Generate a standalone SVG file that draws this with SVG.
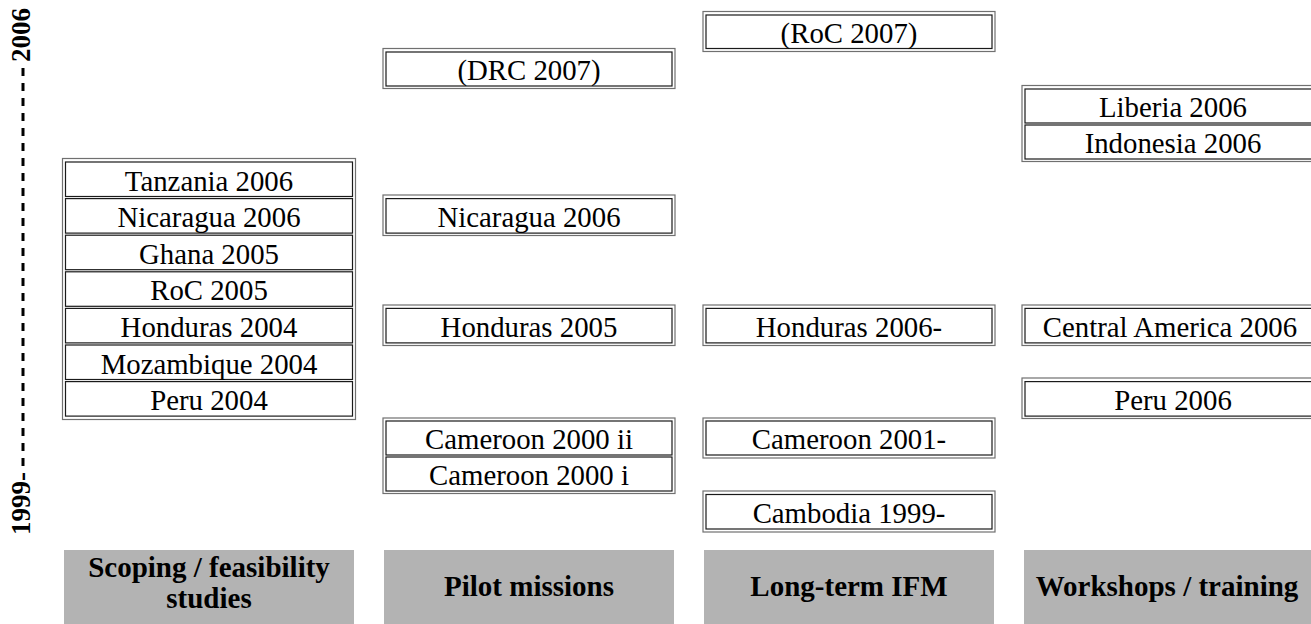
<svg xmlns="http://www.w3.org/2000/svg" width="1311" height="624" viewBox="0 0 1311 624">
<style>
.o{fill:none;stroke:#707070;stroke-width:1.2}
.i{fill:#fff;stroke:#1a1a1a;stroke-width:1.2}
.t{font-family:"Liberation Serif","Times New Roman",serif;font-size:28.8px;fill:#000;text-anchor:middle}
.h{fill:#b3b3b3}
.ht{font-family:"Liberation Serif","Times New Roman",serif;font-size:29px;font-weight:bold;fill:#000;text-anchor:middle}
.ax{font-family:"Liberation Serif","Times New Roman",serif;font-size:27px;font-weight:bold;fill:#000}
</style>
<rect width="1311" height="624" fill="#fff"/>
<g id="axis">
<text class="ax" transform="translate(30,62) rotate(-90)">2006</text>
<line x1="23" y1="68" x2="23" y2="466" stroke="#000" stroke-width="3" stroke-dasharray="8 7"/>
<text class="ax" transform="translate(30,535) rotate(-90)">1999-</text>
</g>
<g id="scoping">
<rect class="o" x="62.5" y="158.5" width="293" height="261"/>
<rect class="i" x="65.5" y="162" width="287" height="34.5"/><text class="t" x="209" y="190.5">Tanzania 2006</text>
<rect class="i" x="65.5" y="198.6" width="287" height="34.5"/><text class="t" x="209" y="227.1">Nicaragua 2006</text>
<rect class="i" x="65.5" y="235.2" width="287" height="34.5"/><text class="t" x="209" y="263.7">Ghana 2005</text>
<rect class="i" x="65.5" y="271.8" width="287" height="34.5"/><text class="t" x="209" y="300.3">RoC 2005</text>
<rect class="i" x="65.5" y="308.4" width="287" height="34.5"/><text class="t" x="209" y="336.9">Honduras 2004</text>
<rect class="i" x="65.5" y="345" width="287" height="34.5"/><text class="t" x="209" y="373.5">Mozambique 2004</text>
<rect class="i" x="65.5" y="381.6" width="287" height="34.5"/><text class="t" x="209" y="410.1">Peru 2004</text>
</g>
<g id="pilot">
<rect class="o" x="383" y="48.5" width="292" height="40"/>
<rect class="i" x="386" y="52" width="286" height="34"/><text class="t" x="529" y="80">(DRC 2007)</text>
<rect class="o" x="383" y="195" width="292" height="40.5"/>
<rect class="i" x="386" y="198.6" width="286" height="34.5"/><text class="t" x="529" y="227.1">Nicaragua 2006</text>
<rect class="o" x="383" y="305" width="292" height="40.5"/>
<rect class="i" x="386" y="308.4" width="286" height="34.5"/><text class="t" x="529" y="336.9">Honduras 2005</text>
<rect class="o" x="383" y="418" width="292" height="75.5"/>
<rect class="i" x="386" y="421" width="286" height="34"/><text class="t" x="529" y="449">Cameroon 2000 ii</text>
<rect class="i" x="386" y="457" width="286" height="34"/><text class="t" x="529" y="485">Cameroon 2000 i</text>
</g>
<g id="longterm">
<rect class="o" x="703" y="11.5" width="292" height="40"/>
<rect class="i" x="706" y="15" width="286" height="33.5"/><text class="t" x="849" y="43">(RoC 2007)</text>
<rect class="o" x="703" y="305" width="292" height="40.5"/>
<rect class="i" x="706" y="308.4" width="286" height="34.5"/><text class="t" x="849" y="336.9">Honduras 2006-</text>
<rect class="o" x="703" y="418" width="292" height="40"/>
<rect class="i" x="706" y="421" width="286" height="34"/><text class="t" x="849" y="449">Cameroon 2001-</text>
<rect class="o" x="703" y="491" width="292" height="41"/>
<rect class="i" x="706" y="494.5" width="286" height="34.5"/><text class="t" x="849" y="523">Cambodia 1999-</text>
</g>
<g id="workshops">
<rect class="o" x="1022" y="85.5" width="304" height="76"/>
<rect class="i" x="1025" y="89" width="298" height="34"/><text class="t" x="1173" y="117">Liberia 2006</text>
<rect class="i" x="1025" y="125" width="298" height="34"/><text class="t" x="1173" y="153">Indonesia 2006</text>
<rect class="o" x="1022" y="305" width="304" height="40.5"/>
<rect class="i" x="1025" y="308.4" width="298" height="34.5"/><text class="t" x="1170" y="336.9">Central America 2006</text>
<rect class="o" x="1022" y="378" width="304" height="40.5"/>
<rect class="i" x="1025" y="381.6" width="298" height="34.5"/><text class="t" x="1173" y="410.1">Peru 2006</text>
</g>
<g id="headers">
<rect class="h" x="64" y="550" width="290" height="74"/>
<text class="ht" x="209" y="577">Scoping / feasibility</text>
<text class="ht" x="209" y="608">studies</text>
<rect class="h" x="384" y="550" width="290" height="74"/>
<text class="ht" x="529" y="596">Pilot missions</text>
<rect class="h" x="704" y="550" width="290" height="74"/>
<text class="ht" x="849" y="596">Long-term IFM</text>
<rect class="h" x="1024" y="550" width="290" height="74"/>
<text class="ht" x="1167" y="596">Workshops / training</text>
</g>
</svg>
